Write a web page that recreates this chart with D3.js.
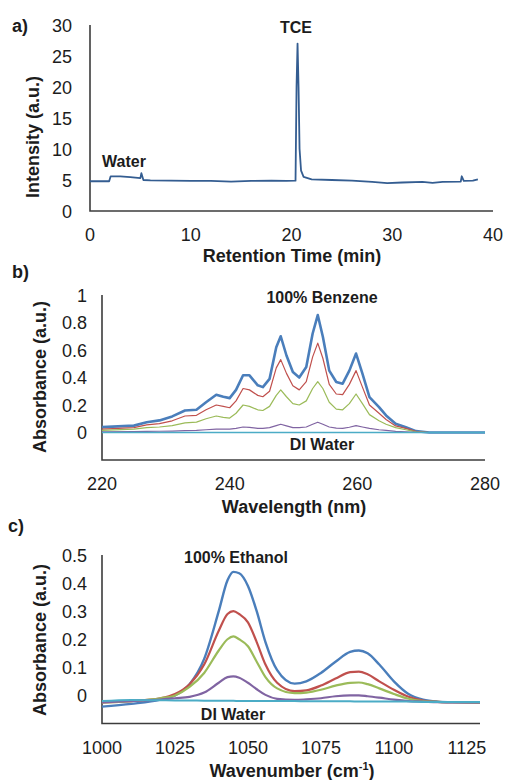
<!DOCTYPE html>
<html>
<head>
<meta charset="UTF-8">
<script src="https://d3js.org/d3.v7.min.js"></script>
<style>
    body { margin: 0; background: #fff; }
    text { font-family: Arial, "Liberation Sans", sans-serif; fill: #1c1c1c; }
</style>
</head>
<body>
<svg id="canvas"></svg>
<script>

// a) chromatogram
gcTime = [0, 1.9, 2.05, 3, 4, 5.0, 5.1, 5.3, 6, 8, 10, 12, 14, 16, 18, 19.5, 20.4, 20.5, 20.6, 20.7, 20.8, 20.95, 21.2, 22, 24, 26, 28, 29.5, 31, 33, 34, 35, 36.8, 36.9, 37.1, 38, 38.5];
gcIntensity = [4.8, 4.8, 5.6, 5.6, 5.45, 5.3, 6.1, 5.0, 4.95, 4.9, 4.85, 4.85, 4.75, 4.85, 4.9, 4.85, 4.9, 20, 27, 20, 10, 6.5, 5.5, 5.1, 5.0, 4.9, 4.7, 4.5, 4.6, 4.7, 4.55, 4.7, 4.75, 5.6, 4.85, 4.9, 5.1];

// b) UV spectra, benzene dilutions
uvWave = [220, 225, 227, 229, 231, 233, 234.8, 236.3, 237.9, 239, 240, 241, 242.1, 243.1, 244.4, 245.2, 246.25, 247.3, 248, 248.9, 249.9, 250.9, 252, 253, 253.8, 254.6, 255.6, 256.7, 257.7, 258.75, 259.8, 260.8, 261.9, 263.4, 264.5, 266, 267.6, 269.2, 271.25, 280];
uvBlue   = [0.039, 0.05, 0.075, 0.088, 0.117, 0.16, 0.165, 0.22, 0.275, 0.26, 0.25, 0.31, 0.416, 0.416, 0.343, 0.33, 0.39, 0.62, 0.70, 0.56, 0.44, 0.40, 0.476, 0.72, 0.854, 0.696, 0.45, 0.367, 0.355, 0.45, 0.574, 0.428, 0.258, 0.185, 0.124, 0.063, 0.039, 0.01, 0, 0];
uvRed    = [0.025, 0.035, 0.055, 0.065, 0.085, 0.12, 0.125, 0.165, 0.2, 0.19, 0.18, 0.23, 0.32, 0.31, 0.27, 0.26, 0.3, 0.47, 0.53, 0.43, 0.34, 0.31, 0.37, 0.55, 0.65, 0.54, 0.35, 0.28, 0.275, 0.35, 0.45, 0.33, 0.2, 0.14, 0.095, 0.048, 0.03, 0.008, 0, 0];
uvGreen  = [0.015, 0.025, 0.035, 0.04, 0.05, 0.07, 0.075, 0.1, 0.12, 0.11, 0.105, 0.14, 0.2, 0.19, 0.165, 0.16, 0.19, 0.27, 0.31, 0.26, 0.21, 0.2, 0.23, 0.32, 0.37, 0.32, 0.22, 0.17, 0.165, 0.21, 0.28, 0.21, 0.13, 0.085, 0.06, 0.035, 0.02, 0.005, 0, 0];
uvPurple = [0.005, 0.007, 0.008, 0.009, 0.01, 0.013, 0.015, 0.02, 0.025, 0.025, 0.025, 0.03, 0.04, 0.037, 0.03, 0.03, 0.035, 0.05, 0.06, 0.048, 0.035, 0.035, 0.04, 0.06, 0.075, 0.06, 0.04, 0.032, 0.03, 0.038, 0.05, 0.04, 0.03, 0.02, 0.015, 0.008, 0.005, 0.002, 0, 0];
uvCyan   = [0, 0, 0, 0, 0, 0, 0, 0, 0, 0, 0, 0, 0, 0, 0, 0, 0, 0, 0, 0, 0, 0, 0, 0, 0, 0, 0, 0, 0, 0, 0, 0, 0, 0, 0, 0, 0, 0, 0, 0];

// c) IR spectra, ethanol dilutions
irWave   = [1000, 1010, 1020, 1025, 1030, 1035, 1040, 1043, 1045, 1047, 1050, 1053, 1056, 1060, 1066, 1070, 1075, 1080, 1085, 1088, 1091, 1095, 1100, 1105, 1110, 1115, 1120, 1129.5];
irBlue   = [-0.04, -0.03, -0.015, 0.0, 0.04, 0.13, 0.30, 0.41, 0.44, 0.435, 0.39, 0.30, 0.19, 0.09, 0.042, 0.05, 0.08, 0.12, 0.155, 0.16, 0.15, 0.11, 0.05, 0.005, -0.015, -0.022, -0.024, -0.025];
irRed    = [-0.025, -0.02, -0.01, 0.005, 0.04, 0.11, 0.23, 0.29, 0.30, 0.29, 0.26, 0.19, 0.11, 0.045, 0.015, 0.018, 0.035, 0.06, 0.083, 0.085, 0.075, 0.05, 0.02, -0.005, -0.018, -0.023, -0.024, -0.025];
irGreen  = [-0.025, -0.02, -0.01, 0.0, 0.03, 0.08, 0.16, 0.20, 0.21, 0.2, 0.175, 0.12, 0.065, 0.025, 0.008, 0.01, 0.02, 0.035, 0.045, 0.046, 0.04, 0.025, 0.005, -0.012, -0.02, -0.023, -0.024, -0.025];
irPurple = [-0.025, -0.02, -0.015, -0.01, -0.005, 0.01, 0.045, 0.065, 0.068, 0.063, 0.045, 0.022, 0.002, -0.012, -0.016, -0.014, -0.01, -0.003, 0.0, 0.0, -0.003, -0.008, -0.015, -0.02, -0.022, -0.024, -0.025, -0.025];
irCyan   = [-0.02, -0.016, -0.017, -0.018, -0.018, -0.019, -0.019, -0.019, -0.019, -0.02, -0.02, -0.02, -0.02, -0.02, -0.02, -0.021, -0.021, -0.021, -0.021, -0.022, -0.022, -0.022, -0.022, -0.022, -0.023, -0.023, -0.023, -0.023];

gcTicksX = [0, 10, 20, 30, 40];
gcTicksY = [0, 5, 10, 15, 20, 25, 30];
uvTicksX = [220, 240, 260, 280];
uvTicksY = [0, 0.2, 0.4, 0.6, 0.8, 1];
irTicksX = [1000, 1025, 1050, 1075, 1100, 1125];
irTicksY = [0, 0.1, 0.2, 0.3, 0.4, 0.5];

colors = { blue: "#4a7ebb", red: "#c0504d", green: "#9bbb59", purple: "#8064a2", cyan: "#4bacc6" };

width = 507;
height = 780;

canvas = d3.select("#canvas")
    .attr("width", width)
    .attr("height", height);

// draws axes (no tick marks, like the excel charts) and returns the scales
function panel(o) {
    var x = d3.scaleLinear().domain(o.xDomain).range(o.xRange);
    var y = d3.scaleLinear().domain(o.yDomain).range(o.yRange);
    var g = canvas.append("g");

    g.append("path")
        .attr("d", "M" + o.xRange[0] + "," + o.yRange[1] + "V" + o.yRange[0] + "H" + o.xRange[1])
        .attr("fill", "none").attr("stroke", "#3c3c3c").attr("stroke-width", 1.6);

    g.selectAll(".yl").data(o.yTicks).enter().append("text")
        .attr("x", o.yLabelX).attr("y", (d) => y(d) + 6.5)
        .attr("text-anchor", "end").attr("font-size", 18)
        .text((d) => d);

    g.selectAll(".xl").data(o.xTicks).enter().append("text")
        .attr("x", (d) => x(d)).attr("y", o.yRange[0] + 30)
        .attr("text-anchor", "middle").attr("font-size", 18)
        .text((d) => d);

    return {x: x, y: y, g: g};
}

function trace(p, xs, ys, color, w, curve) {
    var line = d3.line()
        .x((d, i) => p.x(xs[i]))
        .y((d) => p.y(d))
        .curve(curve || d3.curveLinear);
    p.g.append("path").datum(ys)
        .attr("d", line)
        .attr("fill", "none")
        .attr("stroke", color)
        .attr("stroke-width", w)
        .attr("stroke-linejoin", "round");
}

function label(txt, x, y, size, rotate) {
    var t = canvas.append("text")
        .attr("font-weight", "bold").attr("font-size", size)
        .attr("text-anchor", rotate ? "middle" : "start");
    if (rotate) t.attr("transform", "translate(" + x + "," + y + ") rotate(-90)");
    else t.attr("x", x).attr("y", y);
    t.text(txt);
    return t;
}

function centered(txt, x, y, size) {
    return canvas.append("text")
        .attr("x", x).attr("y", y)
        .attr("text-anchor", "middle")
        .attr("font-weight", "bold").attr("font-size", size)
        .text(txt);
}

// ---- a)
pa = panel({
    xDomain: [0, 40], xRange: [90, 493],
    yDomain: [0, 30], yRange: [211, 25],
    xTicks: gcTicksX, yTicks: gcTicksY, yLabelX: 72
});
trace(pa, gcTime, gcIntensity, "#345d91", 1.8);
label("a)", 12, 32, 18);
centered("TCE", 296, 33, 16);
centered("Water", 124, 167, 16);
centered("Retention Time (min)", 292, 262, 18);
label("Intensity (a.u.)", 39, 137, 18, true);

// ---- b)
pb = panel({
    xDomain: [220, 280], xRange: [102, 485],
    yDomain: [-0.2, 1], yRange: [460, 295],
    xTicks: uvTicksX, yTicks: uvTicksY, yLabelX: 87
});
trace(pb, uvWave, uvBlue, colors.blue, 2.6);
trace(pb, uvWave, uvRed, colors.red, 1.2);
trace(pb, uvWave, uvGreen, colors.green, 1.2);
trace(pb, uvWave, uvPurple, colors.purple, 1.2);
trace(pb, uvWave, uvCyan, colors.cyan, 1.5);
label("b)", 12, 278, 18);
centered("100% Benzene", 322, 303, 16);
centered("DI Water", 322, 450, 16);
centered("Wavelength (nm)", 294, 513, 18);
label("Absorbance (a.u.)", 46, 377, 18, true);

// ---- c)
pc = panel({
    xDomain: [1000, 1129.5], xRange: [102, 480],
    yDomain: [-0.1, 0.5], yRange: [723.5, 555],
    xTicks: irTicksX, yTicks: irTicksY, yLabelX: 87
});
trace(pc, irWave, irBlue, colors.blue, 2.4, d3.curveMonotoneX);
trace(pc, irWave, irRed, colors.red, 2.2, d3.curveMonotoneX);
trace(pc, irWave, irGreen, colors.green, 2.2, d3.curveMonotoneX);
trace(pc, irWave, irPurple, colors.purple, 2.2, d3.curveMonotoneX);
trace(pc, irWave, irCyan, colors.cyan, 2, d3.curveMonotoneX);
label("c)", 8, 532, 18);
centered("100% Ethanol", 236, 563, 16);
centered("DI Water", 233, 720, 16);
wn = centered("Wavenumber (cm", 292, 777, 18);
wn.append("tspan").attr("font-size", 11).attr("dy", -7).text("-1");
wn.append("tspan").attr("dy", 7).text(")");
label("Absorbance (a.u.)", 46, 640, 18, true);

</script>
</body>
</html>
